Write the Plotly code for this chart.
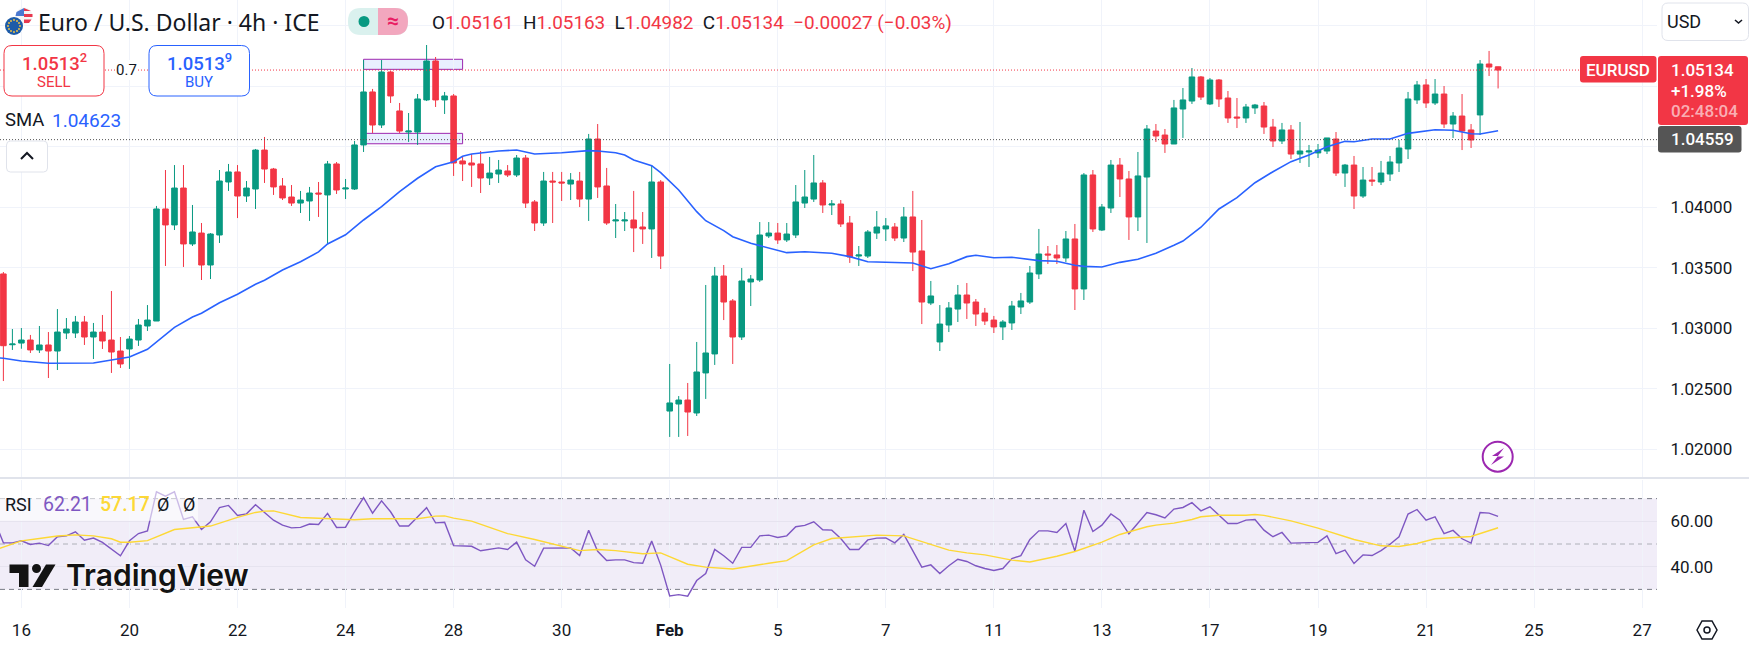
import plotly.graph_objects as go

# bar numbers run from the "16" gridline, 12 bars (2 sessions) between time labels
bars = list(range(-2, 165))

opens = [
    1.03449, 1.02864, 1.02878, 1.02903, 1.02821, 1.02862, 1.02812, 1.02961, 1.02961, 1.03052,
    1.02928, 1.02969, 1.02903, 1.02812, 1.02829, 1.02903, 1.03019, 1.03060, 1.03986, 1.03854,
    1.04159, 1.03697, 1.03787, 1.03523, 1.03771, 1.04209, 1.04292, 1.04093, 1.04151, 1.04473,
    1.04316, 1.04176, 1.04085, 1.04035, 1.04052, 1.04118, 1.04102, 1.04358, 1.04151, 1.04151,
    1.04515, 1.04953, 1.04680, 1.05118, 1.04796, 1.04622, 1.04622, 1.04887, 1.05209, 1.04887,
    1.04920, 1.04383, 1.04366, 1.04358, 1.04242, 1.04275, 1.04300, 1.04267, 1.04407, 1.04044,
    1.03870, 1.04217, 1.04209, 1.04192, 1.04217, 1.04068, 1.04564, 1.04176, 1.03887, 1.03887,
    1.03895, 1.03837, 1.03821, 1.04209, 1.02316, 1.02374, 1.02407, 1.02300, 1.02631, 1.02788,
    1.03432, 1.03226, 1.02928, 1.03383, 1.03399, 1.03763, 1.03787, 1.03730, 1.03771, 1.04035,
    1.04068, 1.04201, 1.04019, 1.04027, 1.03870, 1.03597, 1.03597, 1.03787, 1.03821, 1.03837,
    1.03746, 1.03920, 1.03639, 1.03209, 1.02887, 1.03027, 1.03159, 1.03275, 1.03217, 1.03126,
    1.03068, 1.03011, 1.03044, 1.03176, 1.03217, 1.03449, 1.03614, 1.03606, 1.03581, 1.03738,
    1.03325, 1.04267, 1.03812, 1.03994, 1.04349, 1.04234, 1.03920, 1.04250, 1.04630, 1.04597,
    1.04523, 1.04812, 1.04878, 1.05077, 1.04854, 1.05052, 1.04903, 1.04746, 1.04738, 1.04821,
    1.04837, 1.04663, 1.04548, 1.04639, 1.04440, 1.04457, 1.04449, 1.04465, 1.04564, 1.04283,
    1.04349, 1.04093, 1.04225, 1.04209, 1.04275, 1.04366, 1.04482, 1.04887, 1.05011, 1.04862,
    1.04936, 1.04688, 1.04754, 1.04639, 1.04763, 1.05184, 1.05161,
]
highs = [
    1.03465, 1.02994, 1.03002, 1.02945, 1.03019, 1.02969, 1.03159, 1.03085, 1.03102, 1.03102,
    1.03044, 1.03110, 1.03308, 1.02928, 1.02936, 1.03077, 1.03192, 1.04011, 1.04308, 1.04349,
    1.04349, 1.04019, 1.03870, 1.03787, 1.04308, 1.04358, 1.04349, 1.04217, 1.04482, 1.04581,
    1.04325, 1.04242, 1.04184, 1.04135, 1.04168, 1.04209, 1.04383, 1.04374, 1.04234, 1.04548,
    1.05217, 1.04978, 1.05217, 1.05126, 1.04862, 1.04779, 1.04936, 1.05341, 1.05242, 1.04953,
    1.04936, 1.04416, 1.04440, 1.04465, 1.04416, 1.04391, 1.04349, 1.04432, 1.04432, 1.04060,
    1.04292, 1.04292, 1.04292, 1.04283, 1.04292, 1.04606, 1.04688, 1.04325, 1.04027, 1.03961,
    1.04135, 1.03961, 1.04349, 1.04225, 1.02705, 1.02440, 1.02548, 1.02887, 1.03358, 1.03507,
    1.03523, 1.03242, 1.03498, 1.03440, 1.03878, 1.03878, 1.03870, 1.03870, 1.04184, 1.04308,
    1.04432, 1.04225, 1.04060, 1.04060, 1.03928, 1.03680, 1.03812, 1.03969, 1.03911, 1.03870,
    1.04002, 1.04135, 1.03895, 1.03391, 1.03192, 1.03217, 1.03358, 1.03374, 1.03242, 1.03168,
    1.03102, 1.03068, 1.03226, 1.03292, 1.03515, 1.03821, 1.03680, 1.03688, 1.03804, 1.03862,
    1.04283, 1.04308, 1.04027, 1.04391, 1.04407, 1.04300, 1.04457, 1.04680, 1.04688, 1.04647,
    1.04887, 1.04986, 1.05151, 1.05085, 1.05068, 1.05060, 1.04961, 1.04903, 1.04854, 1.04854,
    1.04870, 1.04730, 1.04697, 1.04680, 1.04705, 1.04515, 1.04523, 1.04573, 1.04622, 1.04358,
    1.04424, 1.04333, 1.04333, 1.04383, 1.04424, 1.04556, 1.04953, 1.05044, 1.05060, 1.05060,
    1.05002, 1.04787, 1.04936, 1.04688, 1.05217, 1.05292, 1.05163,
]
lows = [
    1.02564, 1.02821, 1.02831, 1.02796, 1.02796, 1.02589, 1.02655, 1.02911, 1.02920, 1.02862,
    1.02746, 1.02829, 1.02631, 1.02672, 1.02664, 1.02854, 1.02978, 1.03060, 1.03515, 1.03812,
    1.03507, 1.03680, 1.03399, 1.03407, 1.03705, 1.04135, 1.03911, 1.04044, 1.03986, 1.04201,
    1.04102, 1.04060, 1.04011, 1.03953, 1.03887, 1.03920, 1.03697, 1.04110, 1.04068, 1.04143,
    1.04457, 1.04614, 1.04655, 1.04862, 1.04614, 1.04540, 1.04515, 1.04878, 1.04829, 1.04771,
    1.04259, 1.04217, 1.04168, 1.04118, 1.04184, 1.04201, 1.04250, 1.04250, 1.03994, 1.03804,
    1.03846, 1.03870, 1.04052, 1.04060, 1.04002, 1.03887, 1.04077, 1.03854, 1.03746, 1.03804,
    1.03630, 1.03697, 1.03581, 1.03490, 1.02102, 1.02102, 1.02110, 1.02275, 1.02416, 1.02697,
    1.03068, 1.02705, 1.02903, 1.03184, 1.03383, 1.03746, 1.03697, 1.03713, 1.03746, 1.03994,
    1.04044, 1.03953, 1.03936, 1.03837, 1.03540, 1.03515, 1.03581, 1.03738, 1.03721, 1.03721,
    1.03713, 1.03473, 1.03035, 1.03192, 1.02812, 1.02969, 1.03052, 1.03077, 1.03019, 1.03027,
    1.02961, 1.02903, 1.02986, 1.03118, 1.03201, 1.03407, 1.03531, 1.03531, 1.03548, 1.03151,
    1.03234, 1.03796, 1.03804, 1.03953, 1.04085, 1.03730, 1.03804, 1.03705, 1.04540, 1.04449,
    1.04523, 1.04573, 1.04854, 1.04887, 1.04845, 1.04829, 1.04697, 1.04655, 1.04697, 1.04771,
    1.04606, 1.04498, 1.04523, 1.04399, 1.04366, 1.04333, 1.04407, 1.04440, 1.04259, 1.04168,
    1.03986, 1.04077, 1.04176, 1.04184, 1.04217, 1.04292, 1.04399, 1.04854, 1.04821, 1.04845,
    1.04655, 1.04573, 1.04473, 1.04490, 1.04597, 1.05085, 1.04982,
]
closes = [
    1.02856, 1.02870, 1.02903, 1.02821, 1.02862, 1.02812, 1.02969, 1.02994, 1.03052, 1.02928,
    1.02969, 1.02895, 1.02804, 1.02705, 1.02911, 1.03027, 1.03068, 1.03986, 1.03854, 1.04159,
    1.03697, 1.03796, 1.03523, 1.03779, 1.04217, 1.04292, 1.04093, 1.04159, 1.04473, 1.04316,
    1.04168, 1.04077, 1.04035, 1.04060, 1.04118, 1.04110, 1.04358, 1.04143, 1.04159, 1.04515,
    1.04953, 1.04680, 1.05118, 1.04920, 1.04630, 1.04630, 1.04895, 1.05209, 1.04887, 1.04920,
    1.04366, 1.04358, 1.04349, 1.04242, 1.04283, 1.04308, 1.04267, 1.04407, 1.04035, 1.03870,
    1.04217, 1.04209, 1.04201, 1.04225, 1.04068, 1.04564, 1.04168, 1.03870, 1.03895, 1.03895,
    1.03829, 1.03821, 1.04209, 1.03597, 1.02383, 1.02407, 1.02308, 1.02639, 1.02796, 1.03432,
    1.03217, 1.02928, 1.03391, 1.03407, 1.03771, 1.03787, 1.03730, 1.03779, 1.04044, 1.04085,
    1.04201, 1.04019, 1.04027, 1.03862, 1.03589, 1.03606, 1.03796, 1.03837, 1.03846, 1.03746,
    1.03920, 1.03630, 1.03217, 1.03267, 1.03035, 1.03168, 1.03275, 1.03209, 1.03118, 1.03060,
    1.03011, 1.03052, 1.03184, 1.03226, 1.03457, 1.03614, 1.03606, 1.03581, 1.03738, 1.03325,
    1.04267, 1.03821, 1.04002, 1.04349, 1.04234, 1.03920, 1.04259, 1.04647, 1.04589, 1.04523,
    1.04821, 1.04887, 1.05077, 1.04911, 1.05052, 1.04895, 1.04738, 1.04738, 1.04829, 1.04845,
    1.04663, 1.04548, 1.04639, 1.04440, 1.04465, 1.04465, 1.04473, 1.04573, 1.04283, 1.04349,
    1.04093, 1.04225, 1.04217, 1.04283, 1.04374, 1.04490, 1.04895, 1.05011, 1.04862, 1.04936,
    1.04688, 1.04754, 1.04630, 1.04556, 1.05184, 1.05159, 1.05134,
]

sma_bars = [
    -3, -2, 0, 3, 8, 10, 12, 14, 17, 19, 20, 22, 24, 26, 27, 29, 31, 33, 34, 36, 38, 40, 42, 44, 46,
    48, 49, 50, 53, 55, 57, 60, 62, 63, 64, 66, 67, 68, 70, 71, 73, 75, 76, 78, 79, 81, 82, 84, 85,
    87, 90, 92, 94, 98, 99, 101, 103, 105, 106, 108, 110, 113, 115, 117, 118, 120, 122, 124, 126,
    128, 129, 131, 133, 135, 137, 139, 141, 143, 145, 147, 148, 150, 152, 154, 156, 157, 159, 161,
    162, 164,
]
sma_values = [
    1.02759, 1.02752, 1.02730, 1.02711, 1.02713, 1.02738, 1.02763, 1.02826, 1.03008, 1.03093,
    1.03124, 1.03211, 1.03281, 1.03364, 1.03397, 1.03482, 1.03550, 1.03631, 1.03697, 1.03773,
    1.03895, 1.04005, 1.04129, 1.04240, 1.04335, 1.04377, 1.04421, 1.04440, 1.04465, 1.04473,
    1.04440, 1.04451, 1.04459, 1.04468, 1.04465, 1.04451, 1.04432, 1.04391, 1.04344, 1.04286,
    1.04143, 1.03964, 1.03889, 1.03807, 1.03757, 1.03702, 1.03683, 1.03647, 1.03625, 1.03633,
    1.03620, 1.03592, 1.03550, 1.03542, 1.03540, 1.03492, 1.03534, 1.03592, 1.03603, 1.03583,
    1.03587, 1.03559, 1.03554, 1.03521, 1.03512, 1.03507, 1.03545, 1.03570, 1.03620, 1.03686,
    1.03721, 1.03835, 1.03986, 1.04079, 1.04203, 1.04294, 1.04377, 1.04432, 1.04501, 1.04545,
    1.04542, 1.04564, 1.04564, 1.04611, 1.04630, 1.04641, 1.04636, 1.04608, 1.04606, 1.04633,
]

# rsi starts one bar earlier, off the left edge
rsi_bars = list(range(-3, 165))
rsi_values = [
    60.5, 50.5, 50.5, 51.4, 49.8, 50.4, 49.3, 53.2, 53.6, 55.4, 51.7, 52.6, 50.7, 47.7, 44.8, 51.4,
    54.6, 55.8, 73.0, 71.1, 73.0, 60.8, 62.0, 56.4, 59.8, 66.0, 67.0, 62.6, 63.3, 67.3, 63.9, 60.5,
    58.3, 57.1, 57.3, 58.8, 58.6, 63.5, 57.3, 57.4, 64.2, 70.4, 63.6, 69.0, 64.2, 57.9, 57.9, 62.0,
    66.0, 59.3, 59.6, 49.3, 49.2, 49.0, 47.0, 47.7, 48.3, 47.6, 50.8, 43.0, 40.2, 48.2, 48.2, 48.0,
    48.3, 44.9, 56.1, 46.8, 42.7, 43.0, 43.0, 41.8, 41.5, 51.3, 40.7, 27.1, 27.7, 27.0, 33.9, 37.0,
    47.6, 44.8, 41.5, 48.5, 48.5, 53.6, 53.9, 52.9, 53.6, 57.6, 58.2, 59.8, 56.3, 56.1, 52.4, 47.6,
    47.6, 51.8, 52.6, 52.7, 50.5, 54.2, 47.3, 39.8, 40.8, 37.0, 40.4, 43.3, 42.3, 40.4, 39.2, 38.3,
    39.2, 43.6, 44.9, 52.0, 55.8, 55.8, 55.1, 59.0, 46.8, 64.9, 55.5, 58.3, 63.2, 60.5, 54.5, 59.3,
    63.9, 62.9, 61.5, 65.4, 66.1, 68.2, 64.6, 66.4, 62.7, 59.0, 59.0, 60.5, 60.8, 56.1, 53.2, 55.1,
    50.4, 50.5, 50.7, 50.7, 53.6, 45.8, 47.3, 41.4, 45.2, 44.9, 47.1, 49.9, 53.2, 63.2, 65.2, 60.5,
    62.0, 54.6, 56.0, 52.3, 50.4, 63.9, 63.6, 62.21,
]

rsi_ma_bars = [
    -3, -2, 0, 2, 4, 6, 8, 10, 11, 12, 14, 17, 19, 21, 24, 26, 27, 28, 31, 34, 37, 39, 44, 46, 47,
    48, 50, 52, 54, 57, 59, 62, 64, 66, 69, 71, 74, 76, 79, 81, 83, 85, 88, 90, 92, 95, 98, 101,
    103, 105, 107, 110, 112, 115, 117, 120, 122, 125, 126, 128, 130, 131, 133, 136, 137, 138, 141,
    144, 146, 148, 151, 153, 155, 157, 161, 164,
]
rsi_ma_values = [
    47.3, 48.6, 51.4, 52.4, 53.5, 54.0, 53.6, 52.3, 50.8, 50.8, 51.5, 56.4, 57.3, 57.9, 61.7, 63.9,
    64.5, 64.6, 61.7, 61.3, 60.7, 61.1, 61.1, 62.3, 62.4, 61.4, 60.1, 57.3, 54.6, 52.0, 50.1, 47.1,
    47.6, 47.1, 45.7, 46.1, 41.1, 39.8, 39.0, 40.1, 41.5, 42.7, 49.6, 52.4, 52.9, 53.9, 53.6, 49.9,
    47.3, 46.1, 45.2, 42.9, 42.1, 44.6, 46.7, 50.8, 54.2, 57.6, 58.3, 59.2, 60.8, 62.0, 62.7, 62.7,
    63.0, 62.6, 60.2, 57.0, 54.6, 52.0, 49.2, 48.9, 50.2, 52.3, 53.3, 57.17,
]

time_bars = [0, 12, 24, 36, 48, 60, 72, 84, 96, 108, 120, 132, 144, 156, 168, 180]
time_labels = ["16", "20", "22", "24", "28", "30", "<b>Feb</b>", "5", "7", "11", "13", "17", "19", "21", "25", "27"]

price_ticks = [1.02, 1.025, 1.03, 1.035, 1.04]
price_labels = ["1.02000", "1.02500", "1.03000", "1.03500", "1.04000"]
# these levels keep their gridline, their labels are hidden by the price tags
price_grid_only = [1.045, 1.05, 1.055]
rsi_ticks = [40, 60]
rsi_labels = ["40.00", "60.00"]

# purple marked zones, as (first bar, last bar, low price, high price)
zone_top = (38, 49, 1.05140, 1.05223)
zone_bottom = (38, 49, 1.04525, 1.04611)

last_price = 1.05134
pivot_price = 1.04559

GREEN = "#089981"
RED = "#F23645"
BLUE = "#2962FF"
PURPLE = "#7E57C2"
YELLOW = "#FDD835"
INK = "#131722"
GRID = "#F0F3FA"
FONT = "Roboto"

W_PLOT = 1657
H_PLOT = 608


# all the TradingView chrome is placed by screen pixels, so convert to paper coords
def px(x):
    return x / W_PLOT


def py(y):
    return 1 - y / H_PLOT


def round_box(x0, y0, x1, y1, r):
    a, b, c, d = px(x0), py(y0), px(x1), py(y1)
    rx, ry = r / W_PLOT, r / H_PLOT
    return (
        f"M {a + rx} {b} L {c - rx} {b} Q {c} {b} {c} {b - ry} L {c} {d + ry} Q {c} {d} {c - rx} {d} "
        f"L {a + rx} {d} Q {a} {d} {a} {d + ry} L {a} {b - ry} Q {a} {b} {a + rx} {b} Z"
    )


def poly(points, close=True):
    path = "M " + " L ".join(f"{px(x)} {py(y)}" for x, y in points)
    return path + (" Z" if close else "")


def add_box(fig, x0, y0, x1, y1, r, fill="white", line=None, width=1):
    fig.add_shape(
        type="path", path=round_box(x0, y0, x1, y1, r), xref="paper", yref="paper",
        fillcolor=fill, line=dict(color=line or fill, width=width if line else 0),
    )


def add_poly(fig, points, fill=None, line=None, width=2, close=True):
    fig.add_shape(
        type="path", path=poly(points, close), xref="paper", yref="paper",
        fillcolor=fill or "rgba(0,0,0,0)",
        line=dict(color=line or "rgba(0,0,0,0)", width=width if line else 0),
    )


def add_circle(fig, x, y, r, fill=None, line=None, width=2):
    fig.add_shape(
        type="circle", xref="paper", yref="paper",
        x0=px(x - r), x1=px(x + r), y0=py(y + r), y1=py(y - r),
        fillcolor=fill or "rgba(0,0,0,0)",
        line=dict(color=line or "rgba(0,0,0,0)", width=width if line else 0),
    )


def add_text(fig, x, y, text, color=INK, size=17, anchor="left", family=FONT, **font_kw):
    fig.add_annotation(
        x=px(x), y=py(y), xref="paper", yref="paper", text=text, showarrow=False,
        xanchor=anchor, yanchor="middle", borderpad=0, borderwidth=0,
        font=dict(family=family, size=size, color=color, **font_kw),
    )


def create_figure() -> go.Figure:
    layout = go.Layout(
        width=1749,
        height=646,
        margin=dict(l=0, r=1749 - W_PLOT, t=0, b=646 - H_PLOT, pad=0),
        paper_bgcolor="white",
        plot_bgcolor="white",
        showlegend=False,
        hovermode=False,
        boxgap=0.12,
        font=dict(family=FONT, size=17, color=INK),
        xaxis=dict(
            anchor="y2",
            range=[-2.377, 181.65],
            tickvals=time_bars,
            ticktext=time_labels,
            tickfont=dict(size=17),
            ticks="outside",
            ticklen=7,
            tickcolor="rgba(0,0,0,0)",
            showgrid=True,
            gridcolor=GRID,
            gridwidth=1,
            zeroline=False,
            showline=False,
            rangeslider=dict(visible=False),
        ),
        yaxis=dict(
            anchor="x",
            side="right",
            domain=[1 - 477 / H_PLOT, 1],
            range=[1.01771, 1.05713],
            tickvals=price_ticks,
            ticktext=price_labels,
            ticks="outside",
            ticklen=9,
            tickcolor="rgba(0,0,0,0)",
            gridcolor=GRID,
            gridwidth=1,
            zeroline=False,
            showline=False,
            minor=dict(tickvals=price_grid_only, showgrid=True, gridcolor=GRID, gridwidth=1, ticks=""),
        ),
        yaxis2=dict(
            anchor="x",
            side="right",
            domain=[0, 128 / H_PLOT],
            range=[21.8, 78.2],
            tickvals=rsi_ticks,
            ticktext=rsi_labels,
            ticks="outside",
            ticklen=9,
            tickcolor="rgba(0,0,0,0)",
            gridcolor="#E6E3EF",
            gridwidth=1,
            zeroline=False,
            showline=False,
        ),
    )
    return go.Figure(layout=layout)


def add_price_pane(fig: go.Figure):
    fig.add_trace(go.Candlestick(
        x=bars, open=opens, high=highs, low=lows, close=closes,
        increasing=dict(line=dict(color=GREEN, width=1), fillcolor=GREEN),
        decreasing=dict(line=dict(color=RED, width=1), fillcolor=RED),
        whiskerwidth=0,
    ))
    fig.add_trace(go.Scatter(
        x=sma_bars, y=sma_values, mode="lines", line=dict(color=BLUE, width=1.6),
    ))
    for first, last, low, high in (zone_top, zone_bottom):
        fig.add_shape(
            type="rect", x0=first, x1=last, y0=low, y1=high, xref="x", yref="y", layer="below",
            fillcolor="rgba(41,98,255,0.1)", line=dict(color="#9C27B0", width=1),
        )
    # last price and pivot dotted lines
    fig.add_shape(
        type="line", x0=0, x1=px(1580), y0=last_price, y1=last_price, xref="paper", yref="y",
        line=dict(color=RED, width=1, dash="1px,2px"),
    )
    fig.add_shape(
        type="line", x0=0, x1=1, y0=pivot_price, y1=pivot_price, xref="paper", yref="y",
        line=dict(color="#555555", width=1, dash="1px,2px"),
    )


def add_rsi_pane(fig: go.Figure):
    fig.add_shape(
        type="rect", x0=0, x1=1, y0=30, y1=70, xref="x domain", yref="y2", layer="below",
        fillcolor="rgba(126,87,194,0.11)", line=dict(width=0),
    )
    for level, color in ((70, "#787B86"), (50, "#AEB0B8"), (30, "#787B86")):
        fig.add_shape(
            type="line", x0=0, x1=1, y0=level, y1=level, xref="x domain", yref="y2", layer="below",
            line=dict(color=color, width=1, dash="5px,4px"),
        )
    fig.add_trace(go.Scatter(
        x=rsi_bars, y=rsi_values, xaxis="x", yaxis="y2", mode="lines",
        line=dict(color=PURPLE, width=1.4),
    ))
    fig.add_trace(go.Scatter(
        x=rsi_ma_bars, y=rsi_ma_values, xaxis="x", yaxis="y2", mode="lines",
        line=dict(color=YELLOW, width=1.4),
    ))


def add_header(fig: go.Figure):
    # currency icon: flag disc behind, EU disc in front
    add_circle(fig, 24, 16, 8.5, fill="#F5F5F5")
    add_poly(fig, [(24, 8), (31, 11), (24, 11)], fill="#E8384F")
    add_poly(fig, [(24, 14), (32.5, 14), (32.5, 17), (24, 17)], fill="#E8384F")
    add_poly(fig, [(24, 19.5), (31.5, 19.5), (29, 23), (24, 23)], fill="#E8384F")
    add_poly(fig, [(24, 8), (16.5, 12), (15.5, 16), (24, 16)], fill="#4A78D0")
    add_circle(fig, 14, 26, 9.5, fill="white")
    add_circle(fig, 14, 26, 9, fill="#1E5CA8")
    for dx, dy in ((0, -6), (3, -5), (5, -3), (6, 0), (5, 3), (3, 5), (0, 6), (-3, 5), (-5, 3), (-6, 0), (-5, -3), (-3, -5)):
        add_circle(fig, 14 + dx, 26 + dy, 0.9, fill="#FFC93C")

    add_text(fig, 38, 22, "Euro / U.S. Dollar · 4h · ICE", size=23, family="Noto Sans")

    # market status pill
    add_box(fig, 348, 8, 408, 35, 13, fill="#DAF1EE")
    fig.add_shape(
        type="path", xref="paper", yref="paper", line=dict(width=0), fillcolor="#F2A7BE",
        path=(f"M {px(378)} {py(8)} L {px(395)} {py(8)} Q {px(408)} {py(8)} {px(408)} {py(21.5)} "
              f"Q {px(408)} {py(35)} {px(395)} {py(35)} L {px(378)} {py(35)} Z"),
    )
    add_circle(fig, 364, 21.5, 5.5, fill=GREEN)
    add_text(fig, 393, 21, "≈", color="#E91E63", size=21, anchor="center", weight=700)

    red = f'<span style="color:{RED}">'
    add_text(
        fig, 432, 22,
        f"O{red}1.05161</span>  H{red}1.05163</span>  L{red}1.04982</span>  C{red}1.05134</span>"
        f"  {red}−0.00027 (−0.03%)</span>",
        size=18.9,
    )

    # currency button
    add_box(fig, 1662, 3, 1748.5, 40.5, 6, fill="white", line="#E0E3EB")
    add_text(fig, 1667, 21.5, "USD", size=18)
    add_poly(fig, [(1735, 20), (1738.5, 23), (1742, 20)], line=INK, width=1.6, close=False)


def add_trade_widgets(fig: go.Figure):
    add_box(fig, 4, 45.5, 104, 96, 8, fill="white", line=RED)
    add_text(fig, 54, 62, "1.0513<sup>2</sup>", color=RED, size=18.5, anchor="center", weight=500)
    add_text(fig, 54, 82, "SELL", color=RED, size=15, anchor="center")
    add_box(fig, 149, 45.5, 249.5, 96, 8, fill="white", line=BLUE)
    add_text(fig, 199, 62, "1.0513<sup>9</sup>", color=BLUE, size=18.5, anchor="center", weight=500)
    add_text(fig, 199, 82, "BUY", color=BLUE, size=15, anchor="center")
    fig.add_shape(type="rect", xref="paper", yref="paper", x0=px(116), x1=px(137), y0=py(80), y1=py(60),
                  fillcolor="white", line=dict(width=0))
    add_text(fig, 126, 70, "0.7", size=15, anchor="center")

    add_text(fig, 5, 120, "SMA", size=18.5)
    add_text(fig, 52, 120, "1.04623", color=BLUE, size=19)

    add_box(fig, 6.5, 141, 47.5, 172, 4, fill="white", line="#E0E3EB")
    add_poly(fig, [(21, 159), (27, 153), (33, 159)], line=INK, width=2, close=False)


def add_price_tags(fig: go.Figure):
    add_box(fig, 1580, 56, 1656.5, 82.5, 3, fill=RED)
    add_text(fig, 1618, 69.5, "EURUSD", color="white", size=17, anchor="center", weight=500)
    add_box(fig, 1658, 56, 1748, 125, 3, fill=RED)
    add_text(fig, 1671, 69.5, "1.05134", color="white", size=17, weight=500)
    add_text(fig, 1671, 91, "+1.98%", color="white", size=17, weight=500)
    add_text(fig, 1671, 111, "02:48:04", color="rgba(255,255,255,0.62)", size=17, weight=500)
    add_box(fig, 1658, 126, 1741.5, 152.5, 3, fill="#555555")
    add_text(fig, 1671, 139.5, "1.04559", color="white", size=17, weight=500)


def add_pane_furniture(fig: go.Figure):
    # pane separator runs across the price scale too
    fig.add_shape(type="line", xref="paper", yref="paper", x0=0, x1=px(1749), y0=py(478), y1=py(478),
                  line=dict(color="#E0E3EB", width=2))

    # lightning badge
    add_circle(fig, 1497.7, 456.7, 15, fill="white", line="#9C27B0", width=2)
    add_poly(fig, [(1504, 448), (1492, 456), (1498, 456), (1491, 465), (1504, 456.5), (1497.5, 456.5)],
             fill="#9C27B0")

    # rsi legend sits on a see-through white plate
    fig.add_shape(type="rect", xref="paper", yref="paper", x0=0, x1=px(198), y0=py(520.7), y1=py(490),
                  fillcolor="rgba(255,255,255,0.6)", line=dict(width=0))
    add_text(fig, 5, 504, "RSI", size=18)
    add_text(fig, 43, 504, "62.21", color=PURPLE, size=19.5)
    add_text(fig, 100, 504, "57.17", color=YELLOW, size=19.5, weight=500)
    add_text(fig, 157, 504, "Ø", size=18)
    add_text(fig, 183, 504, "Ø", size=18)

    # TradingView mark
    add_poly(fig, [(9.5, 564.5), (28.5, 564.5), (28.5, 587), (19, 587), (19, 573), (9.5, 573)], fill="#131313")
    add_circle(fig, 36.5, 568.5, 4.5, fill="#131313")
    add_poly(fig, [(46, 564.5), (55.5, 564.5), (42, 587), (32.5, 587)], fill="#131313")
    add_text(fig, 66, 575, "TradingView", color="#131313", size=30, family="Inter", weight=600,
             shadow="0 0 3px white, 0 0 3px white")

    # settings hexagon at the corner of the scales
    add_poly(fig, [(1697, 630), (1702, 621), (1712, 621), (1717, 630), (1712, 639), (1702, 639)], line=INK, width=1.5)
    add_circle(fig, 1707, 630, 3, line=INK, width=1.5)


if __name__ == "__main__":
    fig = create_figure()
    add_price_pane(fig)
    add_rsi_pane(fig)
    add_header(fig)
    add_trade_widgets(fig)
    add_price_tags(fig)
    add_pane_furniture(fig)
    # plotly's page keeps the browser's default body margin, which would offset everything
    fig.write_html(
        "out.html",
        config={"displayModeBar": False},
        post_script="document.body.style.margin='0';document.body.style.overflow='hidden';",
    )
